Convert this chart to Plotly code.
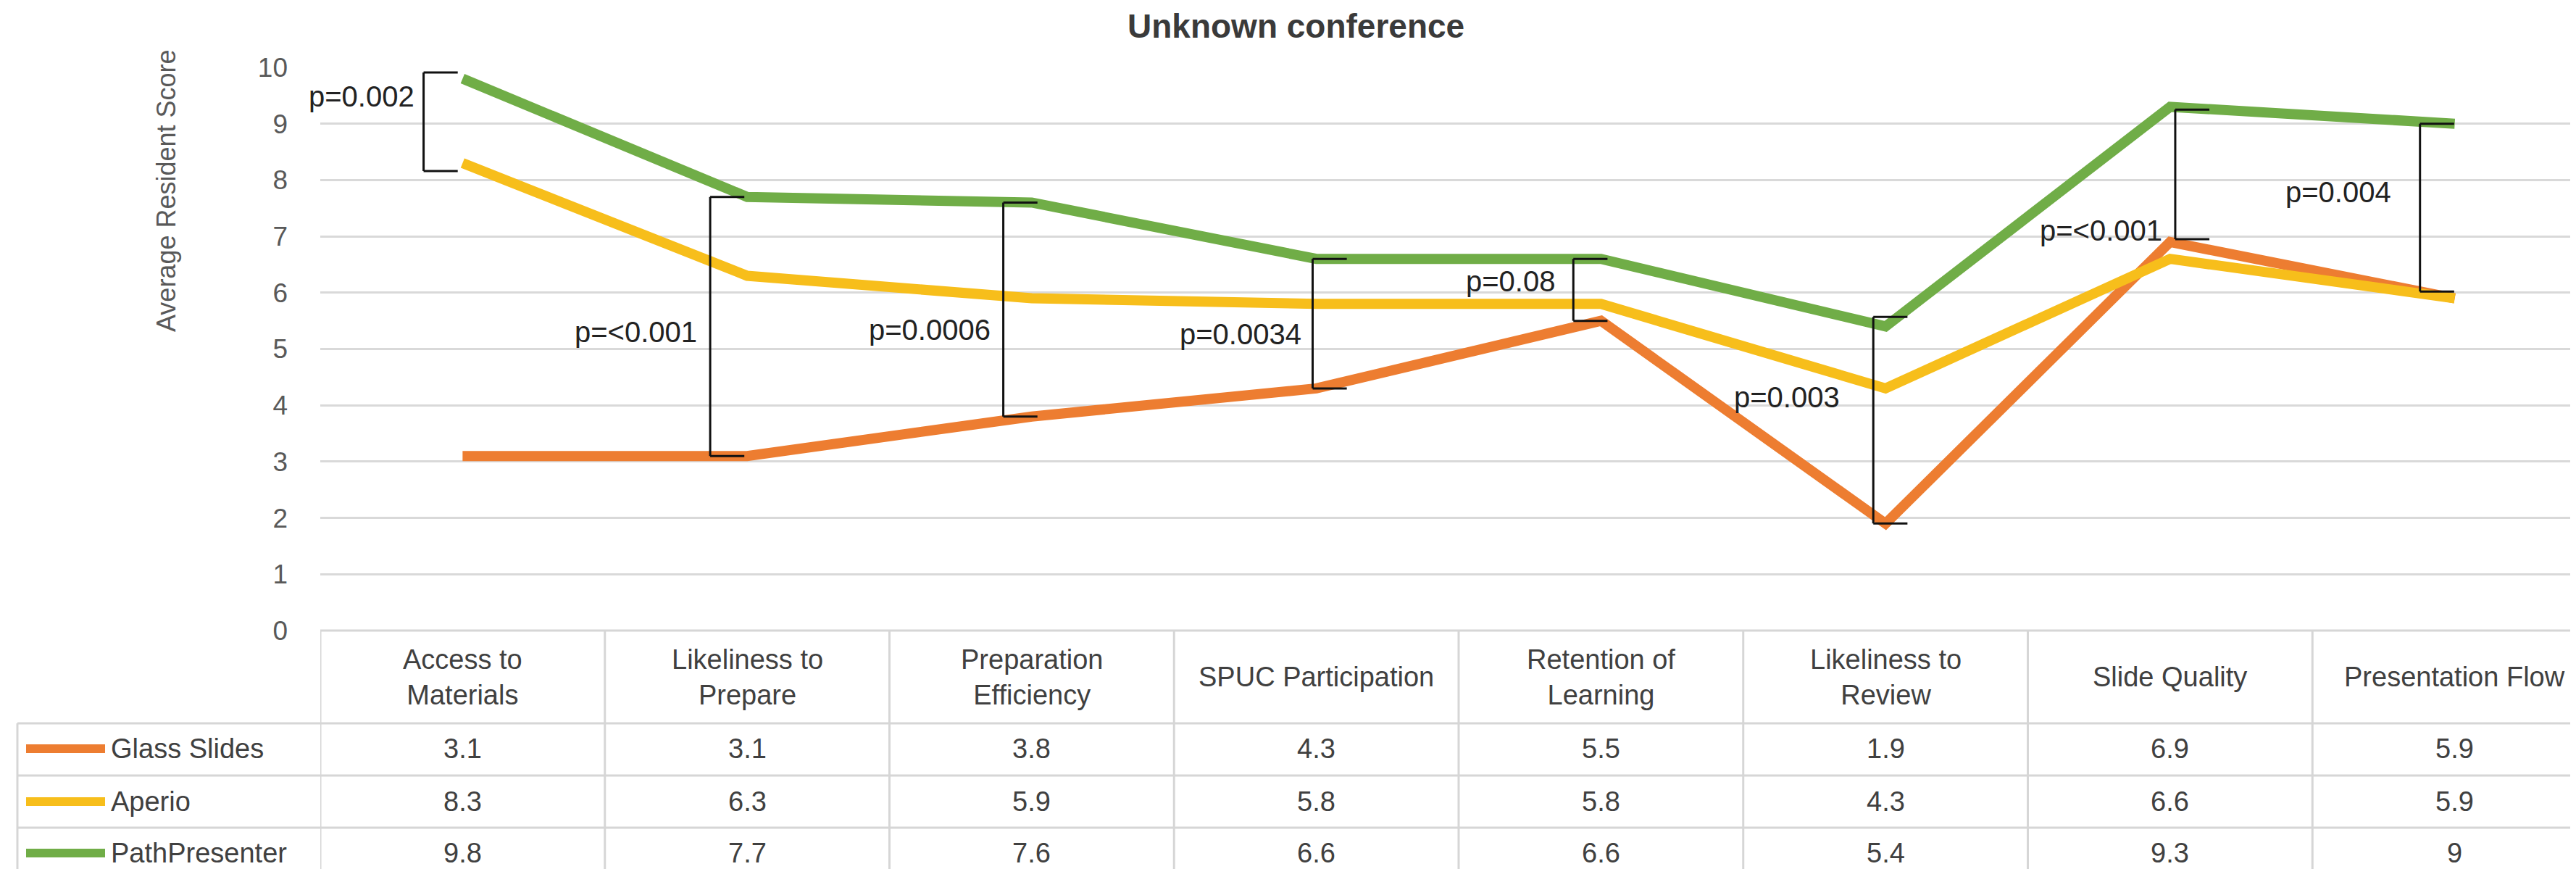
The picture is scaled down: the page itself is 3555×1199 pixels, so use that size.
import plotly.graph_objects as go

# ---------------- data ----------------
categories = ["Access to Materials", "Likeliness to Prepare", "Preparation Efficiency",
              "SPUC Participation", "Retention of Learning", "Likeliness to Review",
              "Slide Quality", "Presentation Flow"]
header_labels = ["Access to<br>Materials", "Likeliness to<br>Prepare", "Preparation<br>Efficiency",
                 "SPUC Participation", "Retention of<br>Learning", "Likeliness to<br>Review",
                 "Slide Quality", "Presentation Flow"]
series_names = ["Glass Slides", "Aperio", "PathPresenter"]
glass_slides = [3.1, 3.1, 3.8, 4.3, 5.5, 1.9, 6.9, 5.9]
aperio = [8.3, 6.3, 5.9, 5.8, 5.8, 4.3, 6.6, 5.9]
path_presenter = [9.8, 7.7, 7.6, 6.6, 6.6, 5.4, 9.3, 9]
p_values = ["p=0.002", "p=<0.001", "p=0.0006", "p=0.0034", "p=0.08", "p=0.003", "p=<0.001", "p=0.004"]
# which series each bracket compares (lower, upper)
bracket_low = ["Aperio", "Glass Slides", "Glass Slides", "Glass Slides", "Glass Slides",
               "Glass Slides", "Glass Slides", "Glass Slides"]
bracket_high = ["PathPresenter"] * 8
title_text = "Unknown conference"
y_title = "Average Resident Score"

# ---------------- styling ----------------
colors = ["#ED7D31", "#F7BE1B", "#70AD47"]
W, H = 3555, 1199
PL, PT, PB = 434, 85, 862          # plot left, top, bottom in px
COLW = 392.75
PW = W - PL
xmax = -0.5 + PW / COLW
FONT = "Liberation Sans"
TXT = "#404040"

def py(p):
    return (PB - p) / (PB - PT)

def px(p):
    return (p - PL) / PW

values = {"Glass Slides": glass_slides, "Aperio": aperio, "PathPresenter": path_presenter}

fig = go.Figure()
for name, col in zip(series_names, colors):
    fig.add_trace(go.Scatter(x=categories, y=values[name], mode="lines", name=name,
                             line=dict(color=col, width=14), showlegend=False))

shapes = []
annotations = []

# brackets (position offsets are styling)
b_dx = [-0.137, -0.13, -0.10, -0.013, -0.097, -0.043, 0.018, -0.122]
b_pad_lo = [-0.14, 0.0, 0.0, 0.0, 0.0, 0.0, 0.05, 0.12]
b_pad_hi = [0.11, 0.0, 0.0, 0.0, 0.0, 0.17, -0.05, 0.0]
lab_y = [9.49, 5.3, 5.34, 5.26, 6.2, 4.14, 7.1, 7.79]
lab_gap = [11, 16, 16, 14, 23, 44, 16, 38]
tick_len = 0.12
for i in range(len(categories)):
    lo = values[bracket_low[i]][i] + b_pad_lo[i]
    hi = values[bracket_high[i]][i] + b_pad_hi[i]
    xv = i + b_dx[i]
    ln = dict(color="#111111", width=3)
    shapes.append(dict(type="line", xref="x", yref="y", x0=xv, x1=xv, y0=lo, y1=hi, line=ln))
    shapes.append(dict(type="line", xref="x", yref="y", x0=xv, x1=xv + tick_len, y0=hi, y1=hi, line=ln))
    shapes.append(dict(type="line", xref="x", yref="y", x0=xv, x1=xv + tick_len, y0=lo, y1=lo, line=ln))
    annotations.append(dict(x=xv - lab_gap[i] / COLW, y=lab_y[i], xref="x", yref="y",
                            text=p_values[i], showarrow=False, xanchor="right", yanchor="middle",
                            font=dict(family=FONT, size=40, color="#222222")))

# ---------------- data table ----------------
grid = dict(color="#D6D6D6", width=3)
row_tops = [990, 1062, 1134]
row_centers = [1025, 1098, 1169]
bottom = 1210
# header top border
shapes.append(dict(type="line", xref="paper", yref="paper", x0=0, x1=1, y0=py(PB), y1=py(PB), line=grid))
for rt in row_tops:
    shapes.append(dict(type="line", xref="paper", yref="paper", x0=px(16), x1=1, y0=py(rt), y1=py(rt), line=grid))
for k in range(len(categories)):
    shapes.append(dict(type="line", xref="x", yref="paper", x0=k - 0.5, x1=k - 0.5,
                       y0=py(PB), y1=py(bottom), line=grid))
shapes.append(dict(type="line", xref="paper", yref="paper", x0=px(16), x1=px(16),
                   y0=py(row_tops[0]), y1=py(bottom), line=grid))

for k, lab in enumerate(header_labels):
    annotations.append(dict(x=k, y=py(926), xref="x", yref="paper", text=lab, showarrow=False,
                            xanchor="center", yanchor="middle", align="center",
                            font=dict(family=FONT, size=38, color=TXT)))
for r, (name, col) in enumerate(zip(series_names, colors)):
    yc = row_centers[r]
    shapes.append(dict(type="line", xref="paper", yref="paper", x0=px(28), x1=px(137),
                       y0=py(yc), y1=py(yc), line=dict(color=col, width=12)))
    annotations.append(dict(x=px(143), y=py(yc), xref="paper", yref="paper", text=name,
                            showarrow=False, xanchor="left", yanchor="middle",
                            font=dict(family=FONT, size=38, color=TXT)))
    for k, v in enumerate(values[name]):
        annotations.append(dict(x=k, y=py(yc), xref="x", yref="paper", text=f"{v:g}",
                                showarrow=False, xanchor="center", yanchor="middle",
                                font=dict(family=FONT, size=38, color=TXT)))

# axis title & chart title
annotations.append(dict(x=px(222), y=py(255), xref="paper", yref="paper", text=y_title,
                        textangle=-90, showarrow=False, xanchor="center", yanchor="middle",
                        font=dict(family=FONT, size=36, color="#595959")))
annotations.append(dict(x=px(1780), y=py(0), xref="paper", yref="paper", text=f"<b>{title_text}</b>",
                        showarrow=False, xanchor="center", yanchor="top",
                        font=dict(family=FONT, size=46, color="#3a3a3a")))

fig.update_layout(
    width=W, height=H,
    margin=dict(l=PL, r=0, t=PT, b=H - PB, pad=0),
    paper_bgcolor="white", plot_bgcolor="white",
    showlegend=False,
    shapes=shapes, annotations=annotations,
    xaxis=dict(type="category", range=[-0.5, xmax], showticklabels=False, showgrid=False,
               zeroline=False, showline=False, ticks=""),
    yaxis=dict(range=[0, 10], dtick=1, tick0=0, showgrid=True, gridcolor="#D9D9D9", gridwidth=3,
               zeroline=False, showline=False, ticks="", ticklabelstandoff=44,
               tickfont=dict(family=FONT, size=37, color="#595959")),
)

fig.write_html("out.html")
